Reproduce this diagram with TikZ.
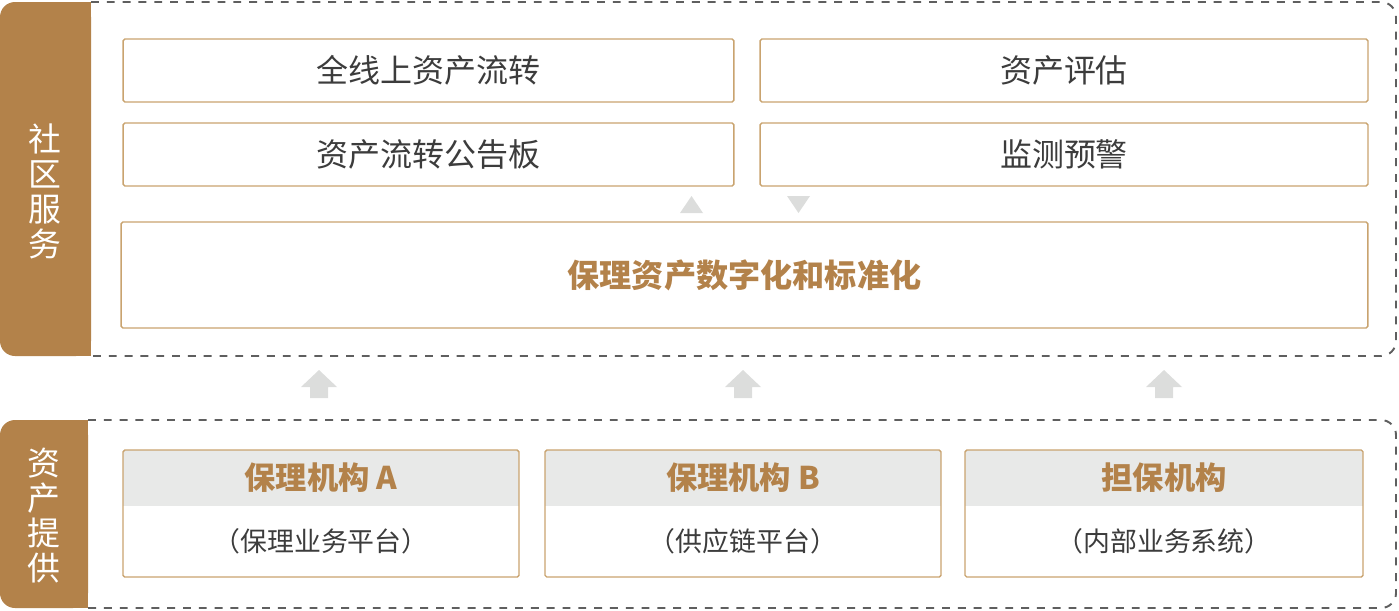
\documentclass[tikz,border=0pt]{standalone}
\usepackage{fontspec}
\newfontfamily\cjk{Noto Sans CJK SC}
\usepackage{tikz}
\usetikzlibrary{positioning}
\definecolor{tan}{HTML}{B3824A}
\definecolor{boxline}{HTML}{C9A36F}
\definecolor{headgray}{HTML}{E8E9E8}
\definecolor{arrowgray}{HTML}{DCDDDC}
\definecolor{dashgray}{HTML}{5F5F5F}
\definecolor{textgray}{HTML}{3C3C3C}

\begin{document}
\begin{tikzpicture}[x=0.02cm,y=-0.02cm,
  panel/.style={draw=dashgray,line width=1.1pt,dash pattern=on 4.5pt off 4.5pt,rounded corners=0.3cm},
  sidetext/.style={text=white,font=\cjk\fontsize{18.7}{19.9}\selectfont,align=center},
  service/.style={draw=boxline,line width=0.8pt,rounded corners=1pt,inner sep=0pt,
    minimum height=1.26cm,text=textgray,font=\cjk\fontsize{18.2}{20}\selectfont},
  provider/.style={draw=boxline,line width=0.8pt,rounded corners=1pt},
  title/.style={text=tan,font=\cjk\bfseries\fontsize{17.8}{19}\selectfont},
  subtitle/.style={text=textgray,font=\cjk\fontsize{15.3}{17}\selectfont}]
\useasboundingbox (0,0) rectangle (1399,610);
%community services panel
\fill[tan,rounded corners=0.3cm] (0,2) rectangle (91,356);
\fill[tan] (50,2) rectangle (91,356);
\draw[panel] (91,2) -- (1396,2) -- (1396,356) -- (91,356);
\node[sidetext] (community) at (45,191) {社\\区\\服\\务};
\node[service,minimum width=12.22cm] (transfer) at (428.5,70.5) {全线上资产流转};
\node[service,minimum width=12.16cm] (rating) at (1064,70.5) {资产评估};
\node[service,minimum width=12.22cm] (board) at (428.5,154.5) {资产流转公告板};
\node[service,minimum width=12.16cm] (monitor) at (1064,154.5) {监测预警};
\node[service,minimum width=24.94cm,minimum height=2.12cm,text=tan,font=\cjk\bfseries\fontsize{18.3}{20}\selectfont] (standard) at (744.5,275) {保理资产数字化和标准化};
%small triangles between layers
\fill[arrowgray] (680,213) -- (703,213) -- (691.5,196) -- cycle;
\fill[arrowgray] (787,196) -- (810,196) -- (798.5,213) -- cycle;
%block arrows up
\foreach \x in {319,743,1164}
  \fill[arrowgray] (\x,370) -- ({\x+18},387) -- ({\x+9},387) -- ({\x+9},398)
    -- ({\x-9},398) -- ({\x-9},387) -- ({\x-18},387) -- cycle;
%asset providers panel
\fill[tan,rounded corners=0.3cm] (0,420) rectangle (88,608);
\fill[tan] (50,420) rectangle (88,608);
\draw[panel] (88,420) -- (1396,420) -- (1396,608) -- (88,608);
\node[sidetext] (provide) at (44,516) {资\\产\\提\\供};
%provider A
\fill[headgray] (123,450) rectangle (519,506);
\draw[provider] (123,450) rectangle (519,577);
\node[title] (factorA) at (321,478) {保理机构 A};
\node[subtitle] (platformA) at (321,541) {（保理业务平台）};
%provider B
\fill[headgray] (545,450) rectangle (941,506);
\draw[provider] (545,450) rectangle (941,577);
\node[title] (factorB) at (743,478) {保理机构 B};
\node[subtitle] (platformB) at (743,541) {（供应链平台）};
%guarantor
\fill[headgray] (965,450) rectangle (1363,506);
\draw[provider] (965,450) rectangle (1363,577);
\node[title] (guarantor) at (1164,478) {担保机构};
\node[subtitle] (system) at (1164,541) {（内部业务系统）};
\end{tikzpicture}
\end{document}
